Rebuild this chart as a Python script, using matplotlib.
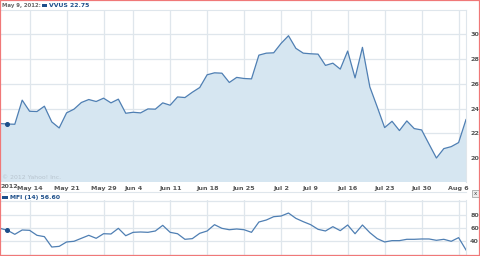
import matplotlib
matplotlib.use("Agg")
import matplotlib.pyplot as plt
import matplotlib.patches as mpatches
import matplotlib.lines as mlines
import pandas as pd

# ---- data ----
holidays = ["2012-05-28", "2012-07-04"]
days = [d for d in pd.bdate_range("2012-05-08", "2012-08-07") if d.strftime("%Y-%m-%d") not in holidays]

price = [22.79, 22.75, 22.73, 24.68, 23.78, 23.76, 24.19, 22.92, 22.43, 23.65,
         23.95, 24.49, 24.73, 24.57, 24.84, 24.46, 24.76, 23.62, 23.70, 23.65,
         23.97, 23.95, 24.46, 24.27, 24.94, 24.89, 25.32, 25.70, 26.73, 26.89,
         26.86, 26.11, 26.52, 26.43, 26.40, 28.32, 28.48, 28.51, 29.27, 29.89,
         28.87, 28.48, 28.43, 28.40, 27.49, 27.67, 27.19, 28.65, 26.48, 28.95,
         25.75, 24.13, 22.46, 22.97, 22.22, 23.00, 22.38, 22.27, 21.13, 20.00,
         20.76, 20.92, 21.25, 23.11]

mfi = [59.5, 56.6, 50.5, 57.0, 56.5, 49.0, 47.0, 31.4, 32.4, 39.0,
       40.0, 44.5, 49.0, 44.5, 51.4, 51.0, 59.5, 48.4, 53.5, 54.0,
       53.5, 55.5, 64.0, 53.5, 51.4, 43.0, 44.0, 52.0, 55.5, 65.0,
       59.5, 57.4, 58.5, 57.4, 53.5, 69.0, 72.0, 77.0, 78.0, 82.5,
       74.5, 69.5, 65.0, 58.0, 55.5, 62.0, 56.0, 64.5, 51.4, 64.5,
       53.0, 44.0, 39.0, 41.0, 41.0, 43.0, 43.0, 43.5, 43.5, 41.5,
       43.0, 40.0, 45.5, 27.0]

tick_dates = ["2012-05-14", "2012-05-21", "2012-05-29", "2012-06-04", "2012-06-11",
              "2012-06-18", "2012-06-25", "2012-07-02", "2012-07-09", "2012-07-16",
              "2012-07-23", "2012-07-30", "2012-08-06"]
tick_labels = ["May 14", "May 21", "May 29", "Jun 4", "Jun 11", "Jun 18", "Jun 25",
               "Jul 2", "Jul 9", "Jul 16", "Jul 23", "Jul 30", "Aug 6"]
price_ticks = [20, 22, 24, 26, 28, 30]
mfi_ticks = [40, 60, 80]

# ---- styling ----
W, H = 480, 256
LINE = "#4f7fb3"
FILL = "#d6e6f1"
GRID = "#dfe6ec"
DARK = "#1d4f8a"
TXT = "#555555"

fig = plt.figure(figsize=(W / 100, H / 100), dpi=100)
fig.patch.set_facecolor("white")

def frac(left, top, right, bottom):
    return [left / W, 1 - bottom / H, (right - left) / W, (bottom - top) / H]

day_str = [d.strftime("%Y-%m-%d") for d in days]
x = list(range(len(days)))
tick_pos = [day_str.index(t) for t in tick_dates]

# main price axes
ax = fig.add_axes(frac(0, 10, 466, 182))
ax.fill_between(x, price, 0, color=FILL, lw=0, zorder=1)
ax.plot(x, price, color=LINE, lw=0.9, zorder=3)
ax.plot([x[1]], [price[1]], "o", color=DARK, ms=2.6, zorder=4)
ax.set_xlim(0, len(x) - 1)
ax.set_ylim(18.06, 31.97)
ax.set_xticks(tick_pos)
ax.set_yticks(price_ticks)
ax.grid(True, color=GRID, lw=0.9, zorder=0)
ax.set_axisbelow(True)
ax.tick_params(length=0, labelleft=False, labelright=True, labelbottom=True,
               labelsize=4.6, colors=TXT, pad=3)
ax.set_xticklabels(tick_labels, fontweight="bold")
for lab in ax.get_yticklabels():
    lab.set_fontweight("bold")
for s in ["left", "bottom"]:
    ax.spines[s].set_visible(False)
ax.spines["top"].set_color(GRID)
ax.spines["right"].set_color(GRID)
ax.text(0.004, 0.012, "\u00a9 2012 Yahoo! Inc.", transform=ax.transAxes,
        fontsize=4.4, color="#b8c4ce", va="bottom", ha="left", zorder=5)

# lower MFI axes
ax2 = fig.add_axes(frac(0, 200, 466, 256))
ax2.plot(x, mfi, color=LINE, lw=0.9, zorder=3)
ax2.plot([x[1]], [mfi[1]], "o", color=DARK, ms=2.6, zorder=4)
ax2.set_xlim(0, len(x) - 1)
ax2.set_ylim(17.9, 102.1)
ax2.set_xticks(tick_pos)
ax2.set_yticks([20, 40, 60, 80, 100])
ax2.set_yticklabels(["", "40", "60", "80", ""], fontweight="bold")
ax2.grid(True, color=GRID, lw=0.9, zorder=0)
ax2.set_axisbelow(True)
ax2.tick_params(length=0, labelleft=False, labelright=True, labelbottom=False,
                labelsize=4.6, colors=TXT, pad=3)
for s in ["left", "bottom", "top"]:
    ax2.spines[s].set_visible(False)
ax2.spines["right"].set_color(GRID)

# header texts
fig.text(1.5 / W, 1 - 5.5 / H, "May 9, 2012:", fontsize=3.9, color="#666666",
         fontweight="bold", va="center", ha="left")
fig.patches.append(mpatches.Rectangle((41.5 / W, 1 - 7 / H), 5.5 / W, 3 / H,
                                      transform=fig.transFigure, color=DARK, lw=0))
fig.text(49 / W, 1 - 5.5 / H, "VVUS 22.75", fontsize=4.4, color=DARK,
         fontweight="bold", va="center", ha="left")

fig.text(0.5 / W, 1 - 186.5 / H, "2012", fontsize=4.6, color=TXT,
         fontweight="bold", va="center", ha="left")

fig.lines.append(mlines.Line2D([0, 466 / W], [1 - 191.5 / H, 1 - 191.5 / H],
                               transform=fig.transFigure, color=GRID, lw=0.8))
fig.patches.append(mpatches.Rectangle((2 / W, 1 - 198.5 / H), 6 / W, 3 / H,
                                      transform=fig.transFigure, color=DARK, lw=0))
fig.text(10 / W, 1 - 197 / H, "MFI (14) 56.60", fontsize=4.4, color=DARK,
         fontweight="bold", va="center", ha="left")

# close button
fig.patches.append(mpatches.Rectangle((472 / W, 1 - 197 / H), 7 / W, 7 / H,
                                      transform=fig.transFigure, facecolor="#eeeeee",
                                      edgecolor="#999999", lw=0.5))
fig.text(475.5 / W, 1 - 193.5 / H, "x", fontsize=4, color="#444444",
         va="center", ha="center")

# outer frame
fig.patches.append(mpatches.Rectangle((0, 0), 1, 1, transform=fig.transFigure,
                                      fill=False, edgecolor="#f07878", lw=1.6))

fig.savefig("out.png", dpi=100, facecolor="white")
